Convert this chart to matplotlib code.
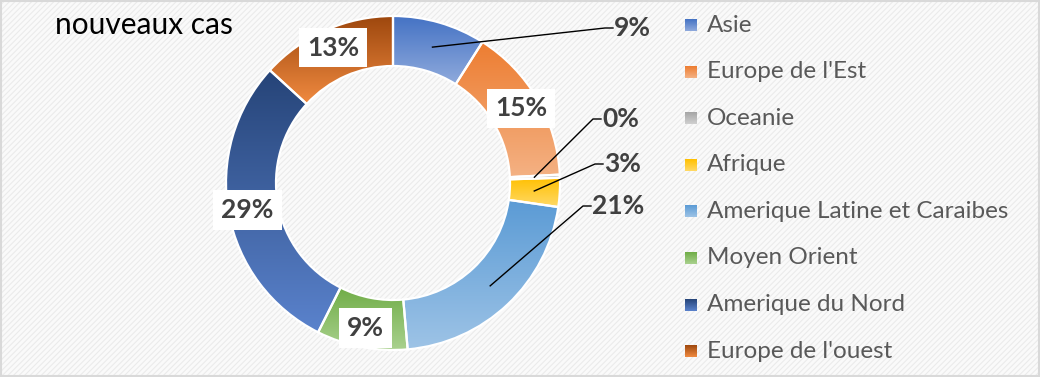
import numpy as np
import matplotlib.pyplot as plt
from matplotlib.colors import to_rgb
from matplotlib.patches import Rectangle

regions = ["Asie", "Europe de l'Est", "Oceanie", "Afrique",
           "Amerique Latine et Caraibes", "Moyen Orient",
           "Amerique du Nord", "Europe de l'ouest"]
shares = [9.0, 15.2, 0.3, 2.8, 21.3, 8.8, 29.4, 13.2]
title = "nouveaux cas"

# gradient colours (top, bottom) per wedge
top_cols = ["#4472c4", "#ed7d31", "#a5a5a5", "#ffc000",
            "#5b9bd5", "#70ad47", "#264478", "#9e480e"]
bot_cols = ["#8faadc", "#f4b183", "#d0d0d0", "#ffd966",
            "#9dc3e6", "#a9d18e", "#5a82cc", "#f08a40"]

# which labels sit outside with a leader line: index -> (elbow x, y) in px
outside = {0: (605, 28), 2: (593, 119), 3: (595, 164), 4: (583, 206)}

W, H = 1040, 377
CX, CY, R, RING = 393, H - 183, 167, 50

plt.rcParams["font.family"] = ["Lato", "DejaVu Sans"]

fig = plt.figure(figsize=(W / 100, H / 100), dpi=100)
ax = fig.add_axes([0, 0, 1, 1])
ax.set_xlim(0, W)
ax.set_ylim(0, H)
ax.axis("off")

# background with faint diagonal stripes and light frame
plt.rcParams["hatch.linewidth"] = 0.8
ax.add_patch(Rectangle((0, 0), W, H, facecolor="#fafafa", edgecolor="#ebebeb",
                       hatch="//////", linewidth=0, zorder=0))
ax.add_patch(Rectangle((1, 1), W - 2, H - 2, facecolor="none",
                       edgecolor="#d9d9d9", linewidth=1.5, zorder=10))


def grad_fill(patch, c_top, c_bot, z):
    ext = patch.get_patch_transform().transform_path(patch.get_path()).get_extents()
    t = np.linspace(0, 1, 64)[:, None, None]
    img = np.array(to_rgb(c_bot))[None, None, :] * (1 - t) + np.array(to_rgb(c_top))[None, None, :] * t
    im = ax.imshow(img, extent=(ext.x0, ext.x1, ext.y0, ext.y1), origin="lower",
                   aspect="auto", zorder=z, interpolation="bilinear")
    im.set_clip_path(patch)


wedges, _ = ax.pie(shares, center=(CX, CY), radius=R, startangle=90,
                   counterclock=False, colors=top_cols,
                   wedgeprops=dict(width=RING, edgecolor="white", linewidth=1.6))
ax.set_xlim(0, W)
ax.set_ylim(0, H)
for w, ct, cb in zip(wedges, top_cols, bot_cols):
    w.set_zorder(2)
    grad_fill(w, ct, cb, 3)
    w.set_facecolor("none")
    w.set_zorder(4)

# percentage labels
for i, (w, v) in enumerate(zip(wedges, shares)):
    ang = np.deg2rad((w.theta1 + w.theta2) / 2)
    txt = f"{round(v):.0f}%"
    if i in outside:
        r0 = R - RING / 2 - 0.5
        x0, y0 = CX + r0 * np.cos(ang), CY + r0 * np.sin(ang)
        ex, ey = outside[i]
        ey = H - ey
        ax.plot([x0, ex, ex + 8], [y0, ey, ey], color="black", lw=1.0, zorder=6)
        ax.text(ex + 9, ey, txt, ha="left", va="center", fontsize=19,
                fontweight="bold", color="#404040", zorder=7)
    else:
        r0 = R - RING / 2 + 6
        ax.text(CX + r0 * np.cos(ang), CY + r0 * np.sin(ang), txt,
                ha="center", va="center", fontsize=19, fontweight="bold",
                color="#404040", zorder=7,
                bbox=dict(boxstyle="square,pad=0.3", facecolor="white", edgecolor="none"))

# legend
for i, (name, ct, cb) in enumerate(zip(regions, top_cols, bot_cols)):
    y = H - (25 + i * 46.6)
    sq = Rectangle((685, y - 6), 12, 12, facecolor="none", edgecolor="none", zorder=5)
    ax.add_patch(sq)
    grad_fill(sq, ct, cb, 5)
    ax.text(707, y, name, ha="left", va="center", fontsize=17.5, color="#595959", zorder=7)

ax.set_xlim(0, W)
ax.set_ylim(0, H)

ax.text(55, H - 25, title, ha="left", va="center", fontsize=21.5, color="black", zorder=7)

fig.savefig("out.png", dpi=100)
